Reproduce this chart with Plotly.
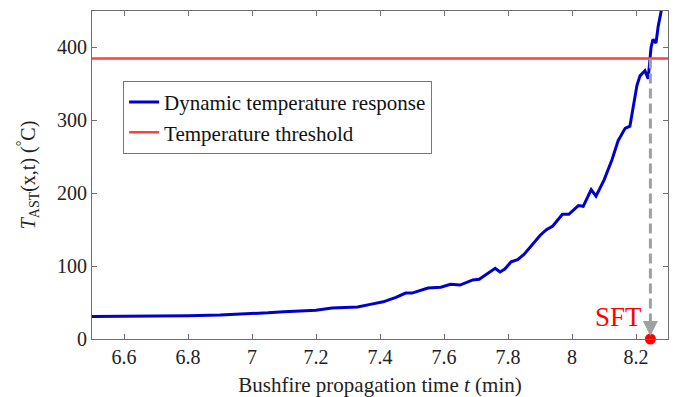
import plotly.graph_objects as go

# Surface temperature response of the asset over bushfire propagation time
time_min = [6.50, 6.60, 6.70, 6.80, 6.90, 7.00, 7.05, 7.10, 7.15, 7.20,
            7.25, 7.30, 7.33, 7.37, 7.41, 7.45, 7.48, 7.50, 7.55, 7.59,
            7.62, 7.65, 7.69, 7.71, 7.76, 7.775, 7.79, 7.81, 7.83, 7.85,
            7.88, 7.90, 7.92, 7.94, 7.97, 7.99, 8.02, 8.035, 8.06, 8.075,
            8.10, 8.115, 8.125, 8.144, 8.166, 8.181, 8.19, 8.203, 8.2125, 8.228,
            8.238, 8.247, 8.253, 8.2625, 8.269, 8.281]
temp_c = [31, 31, 31.5, 32, 33, 34.5, 36, 37.5, 38, 39.5,
          42.5, 43, 44, 47.5, 51, 57, 63, 63, 70, 71,
          75, 74, 81, 82, 97, 92, 96, 106, 109, 116,
          131, 142, 150, 155, 171, 171, 183, 182, 205, 196,
          218, 235, 246, 272, 289, 292, 315, 348, 361, 368,
          357, 400, 411, 406, 428, 455]

threshold_c = 385
sft_time = 8.245

x_ticks = [6.6, 6.8, 7.0, 7.2, 7.4, 7.6, 7.8, 8.0, 8.2]
x_ticktext = ["6.6", "6.8", "7", "7.2", "7.4", "7.6", "7.8", "8", "8.2"]
y_ticks = [0, 100, 200, 300, 400]

serif = "Liberation Serif, Times New Roman, serif"
frame_col = "#6e6e6e"

fig = go.Figure()

fig.add_trace(go.Scatter(
    x=time_min, y=temp_c, mode="lines",
    name="Dynamic temperature response",
    line=dict(color="#0000CD", width=3),
))
fig.add_trace(go.Scatter(
    x=[6.5, 8.3], y=[threshold_c, threshold_c], mode="lines",
    name="Temperature threshold",
    line=dict(color="#FF4040", width=2.5),
))
# dashed drop line from the threshold crossing down to the time axis
fig.add_trace(go.Scatter(
    x=[sft_time, sft_time], y=[threshold_c, 8], mode="lines",
    showlegend=False, hoverinfo="skip",
    line=dict(color="#a0a0a0", width=3, dash="10px,5px"),
))
fig.add_trace(go.Scatter(
    x=[sft_time], y=[0], mode="markers", showlegend=False,
    marker=dict(color="#FF0000", size=11), cliponaxis=False,
))

fig.add_annotation(
    x=sft_time, y=4, xref="x", yref="y",
    ax=0, ay=-14, text="", showarrow=True,
    arrowhead=2, arrowsize=1.2, arrowwidth=2.5, arrowcolor="#a0a0a0",
)
fig.add_annotation(
    x=8.224, y=30, xref="x", yref="y", text="SFT",
    showarrow=False, xanchor="right", yanchor="middle",
    font=dict(family=serif, size=27, color="#FF0000"),
)

axis_common = dict(
    showline=True, mirror="ticks", linecolor=frame_col, linewidth=1,
    ticks="inside", ticklen=5, tickcolor=frame_col, showgrid=False,
    zeroline=False, automargin=False,
    tickfont=dict(family=serif, size=20, color="#222222"),
)

fig.update_xaxes(
    range=[6.5, 8.3], tickvals=x_ticks, ticktext=x_ticktext,
    title=dict(text="Bushfire propagation time <i>t</i> (min)",
               font=dict(family=serif, size=21, color="#222222"), standoff=10),
    **axis_common,
)
fig.update_yaxes(
    range=[0, 450], tickvals=y_ticks,
    title=dict(text="<i>T</i><sub>AST</sub>(x,t) (<sup>°</sup>C)",
               font=dict(family=serif, size=20, color="#222222"), standoff=16),
    **axis_common,
)

fig.update_layout(
    width=684, height=397,
    margin=dict(l=92, r=16, t=11, b=58),
    paper_bgcolor="white", plot_bgcolor="white",
    legend=dict(
        x=0.054, y=0.787, xanchor="left", yanchor="top",
        bgcolor="white", bordercolor="#777777", borderwidth=1,
        font=dict(family=serif, size=21, color="#111111"),
        itemwidth=30,
    ),
)

fig.write_html("out.html")
